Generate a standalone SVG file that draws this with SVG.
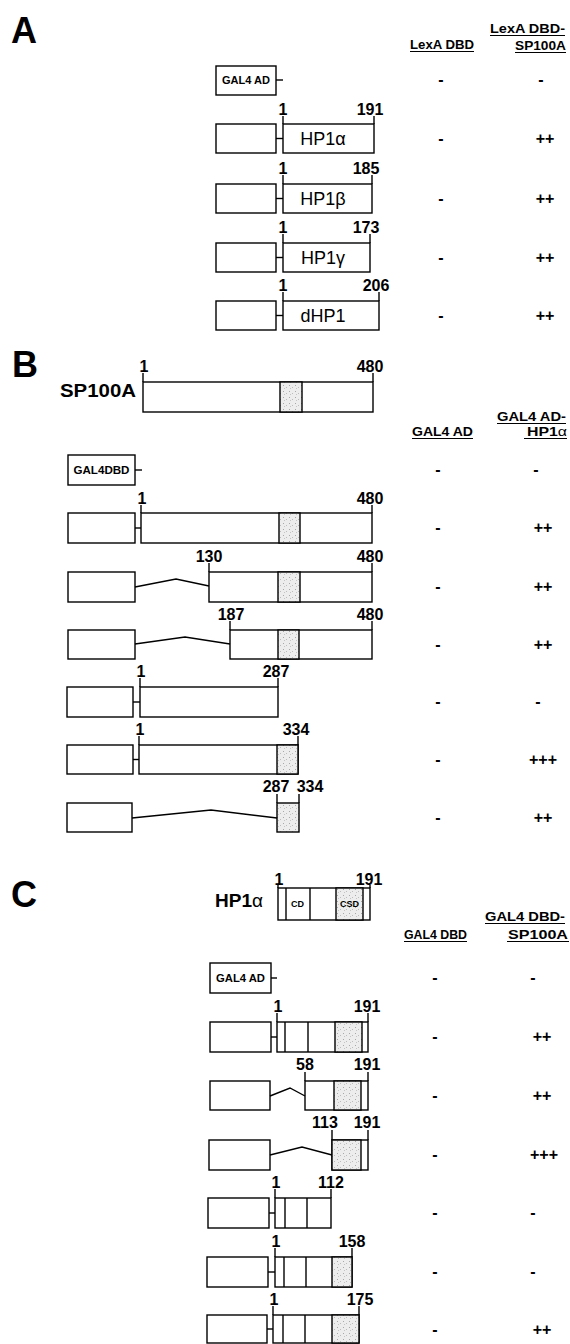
<svg xmlns="http://www.w3.org/2000/svg" width="570" height="1344" viewBox="0 0 570 1344">
<style>
.bx{fill:#fff;stroke:#000;stroke-width:1.4}
.sh{fill:url(#stip);stroke:#000;stroke-width:1.4}
.ln{fill:none;stroke:#000;stroke-width:1.4}
.ul{stroke:#000;stroke-width:1.1}
text{font-family:"Liberation Sans",Arial,sans-serif;fill:#000}
.pl{font-size:36px;font-weight:bold}
.num{font-size:16px;font-weight:bold;text-anchor:middle}
.sig{font-size:16px;font-weight:bold;text-anchor:middle}
.hdr{font-size:13.5px;font-weight:bold}
.in{font-size:10.5px;font-weight:bold;text-anchor:middle}
.nm{font-size:18px;text-anchor:middle}
.tiny{font-size:9px;font-weight:bold;text-anchor:middle}
</style>
<defs>
<pattern id="stip" width="6" height="6" patternUnits="userSpaceOnUse">
<rect width="6" height="6" fill="#ededed"/>
<rect x="1" y="1" width="1" height="1" fill="#a8a8a8"/>
<rect x="4" y="3" width="1" height="1" fill="#bcbcbc"/>
<rect x="2" y="4" width="1" height="1" fill="#c4c4c4"/>
</pattern>
</defs>

<!-- ================= PANEL A ================= -->
<g id="panelA-label"><text class="pl" x="11" y="43">A</text></g>
<g id="headerA">
<text class="hdr" x="410" y="49" textLength="64" lengthAdjust="spacingAndGlyphs">LexA DBD</text>
<line class="ul" x1="410" y1="51.5" x2="474" y2="51.5"/>
<text class="hdr" x="490" y="33" textLength="75" lengthAdjust="spacingAndGlyphs">LexA DBD-</text>
<line class="ul" x1="490" y1="35.5" x2="565" y2="35.5"/>
<text class="hdr" x="515" y="50" textLength="51" lengthAdjust="spacingAndGlyphs">SP100A</text>
<line class="ul" x1="515" y1="52.5" x2="566" y2="52.5"/>
</g>

<g id="A0-gal4ad">
<rect class="bx" x="216" y="66" width="60" height="29"/>
<text class="in" x="246" y="84" textLength="48" lengthAdjust="spacingAndGlyphs">GAL4 AD</text>
<text class="sig" x="441" y="85">-</text><text class="sig" x="541" y="85">-</text>
</g>

<g id="A1-hp1a">
<rect class="bx" x="216" y="124" width="60" height="29"/>
<rect class="bx" x="283" y="124" width="91" height="29"/>
<line class="ln" x1="283" y1="116" x2="283" y2="124"/><line class="ln" x1="374" y1="116" x2="374" y2="124"/>
<text class="num" x="283" y="115">1</text><text class="num" x="370" y="115">191</text>
<text class="nm" x="323" y="145">HP1α</text>
<text class="sig" x="441" y="144">-</text><text class="sig" x="545" y="144">++</text>
</g>

<g id="A2-hp1b">
<rect class="bx" x="216" y="184" width="60" height="29"/>
<rect class="bx" x="283" y="184" width="89" height="29"/>
<line class="ln" x1="283" y1="175" x2="283" y2="184"/><line class="ln" x1="372" y1="175" x2="372" y2="184"/>
<text class="num" x="283" y="174">1</text><text class="num" x="366" y="174">185</text>
<text class="nm" x="323" y="205">HP1β</text>
<text class="sig" x="441" y="204">-</text><text class="sig" x="545" y="204">++</text>
</g>

<g id="A3-hp1g">
<rect class="bx" x="216" y="243" width="60" height="29"/>
<rect class="bx" x="283" y="243" width="87" height="29"/>
<line class="ln" x1="283" y1="234" x2="283" y2="243"/><line class="ln" x1="370" y1="234" x2="370" y2="243"/>
<text class="num" x="283" y="233">1</text><text class="num" x="366" y="233">173</text>
<text class="nm" x="323" y="264">HP1γ</text>
<text class="sig" x="441" y="263">-</text><text class="sig" x="545" y="263">++</text>
</g>

<g id="A4-dhp1">
<rect class="bx" x="216" y="301" width="60" height="29"/>
<rect class="bx" x="283" y="301" width="96" height="29"/>
<line class="ln" x1="283" y1="292" x2="283" y2="301"/><line class="ln" x1="379" y1="292" x2="379" y2="301"/>
<text class="num" x="283" y="291">1</text><text class="num" x="376" y="291">206</text>
<text class="nm" x="323" y="322">dHP1</text>
<text class="sig" x="441" y="321">-</text><text class="sig" x="545" y="321">++</text>
</g>

<!-- ================= PANEL B ================= -->
<g id="panelB-label"><text class="pl" x="12" y="377">B</text></g>

<g id="B-sp100a">
<text x="60" y="397" font-size="18" font-weight="bold" textLength="76" lengthAdjust="spacingAndGlyphs">SP100A</text>
<rect class="bx" x="143" y="382" width="230" height="30"/>
<rect class="sh" x="280" y="382" width="22" height="30"/>
<line class="ln" x1="143" y1="373" x2="143" y2="382"/><line class="ln" x1="373" y1="373" x2="373" y2="382"/>
<text class="num" x="144" y="372">1</text><text class="num" x="370" y="372">480</text>
</g>

<g id="headerB">
<text class="hdr" x="412" y="436" textLength="61" lengthAdjust="spacingAndGlyphs">GAL4 AD</text>
<line class="ul" x1="412" y1="438.5" x2="473" y2="438.5"/>
<text class="hdr" x="497" y="421" textLength="69" lengthAdjust="spacingAndGlyphs">GAL4 AD-</text>
<line class="ul" x1="497" y1="423.5" x2="566" y2="423.5"/>
<text class="hdr" x="527" y="436" textLength="40" lengthAdjust="spacingAndGlyphs">HP1<tspan font-weight="normal">α</tspan></text>
<line class="ul" x1="524" y1="438.5" x2="567" y2="438.5"/>
</g>

<g id="B0-gal4dbd">
<rect class="bx" x="68" y="455" width="67" height="30"/>
<text class="in" x="101.5" y="474" textLength="56" lengthAdjust="spacingAndGlyphs">GAL4DBD</text>
<text class="sig" x="438" y="475">-</text><text class="sig" x="536" y="475">-</text>
</g>

<g id="B1-1-480">
<rect class="bx" x="68" y="513" width="67" height="30"/>
<rect class="bx" x="141" y="513" width="231" height="30"/>
<rect class="sh" x="279" y="513" width="21" height="30"/>
<line class="ln" x1="141" y1="505" x2="141" y2="513"/><line class="ln" x1="372" y1="505" x2="372" y2="513"/>
<text class="num" x="142" y="504">1</text><text class="num" x="370" y="504">480</text>
<text class="sig" x="438" y="533">-</text><text class="sig" x="543" y="533">++</text>
</g>

<g id="B2-130-480">
<rect class="bx" x="68" y="572" width="67" height="30"/>
<rect class="bx" x="209" y="572" width="163" height="30"/>
<rect class="sh" x="278" y="572" width="22" height="30"/>
<line class="ln" x1="209" y1="563" x2="209" y2="572"/><line class="ln" x1="372" y1="563" x2="372" y2="572"/>
<text class="num" x="209" y="562">130</text><text class="num" x="370" y="562">480</text>
<text class="sig" x="438" y="592">-</text><text class="sig" x="543" y="592">++</text>
</g>

<g id="B3-187-480">
<rect class="bx" x="68" y="630" width="67" height="29"/>
<rect class="bx" x="230" y="630" width="142" height="29"/>
<rect class="sh" x="278" y="630" width="21" height="29"/>
<line class="ln" x1="230" y1="621" x2="230" y2="630"/><line class="ln" x1="372" y1="621" x2="372" y2="630"/>
<text class="num" x="231" y="620">187</text><text class="num" x="370" y="620">480</text>
<text class="sig" x="438" y="650">-</text><text class="sig" x="543" y="650">++</text>
</g>

<g id="B4-1-287">
<rect class="bx" x="67" y="687" width="66" height="30"/>
<rect class="bx" x="140" y="687" width="138" height="30"/>
<line class="ln" x1="140" y1="678" x2="140" y2="687"/><line class="ln" x1="278" y1="678" x2="278" y2="687"/>
<text class="num" x="141" y="677">1</text><text class="num" x="276" y="677">287</text>
<text class="sig" x="438" y="707">-</text><text class="sig" x="538" y="707">-</text>
</g>

<g id="B5-1-334">
<rect class="bx" x="67" y="745" width="66" height="29"/>
<rect class="bx" x="139" y="745" width="159" height="29"/>
<rect class="sh" x="277" y="745" width="21" height="29"/>
<line class="ln" x1="139" y1="736" x2="139" y2="745"/><line class="ln" x1="298" y1="736" x2="298" y2="745"/>
<text class="num" x="140" y="735">1</text><text class="num" x="296" y="735">334</text>
<text class="sig" x="438" y="765">-</text><text class="sig" x="543" y="765">+++</text>
</g>

<g id="B6-287-334">
<rect class="bx" x="67" y="803" width="65" height="29"/>
<rect class="sh" x="277" y="803" width="22" height="29"/>
<line class="ln" x1="277" y1="794" x2="277" y2="803"/><line class="ln" x1="299" y1="794" x2="299" y2="803"/>
<text class="num" x="276" y="792">287</text><text class="num" x="310" y="792">334</text>
<text class="sig" x="438" y="823">-</text><text class="sig" x="543" y="823">++</text>
</g>

<!-- ================= PANEL C ================= -->
<g id="panelC-label"><text class="pl" x="11" y="907">C</text></g>

<g id="C-hp1a">
<text x="215" y="907" font-size="19" font-weight="bold">HP1<tspan font-weight="normal">α</tspan></text>
<rect class="bx" x="278" y="888" width="92" height="32"/>
<rect class="sh" x="336" y="888" width="27" height="32"/>
<line class="ln" x1="286" y1="888" x2="286" y2="920"/><line class="ln" x1="310" y1="888" x2="310" y2="920"/>
<line class="ln" x1="278" y1="885" x2="278" y2="888"/><line class="ln" x1="370" y1="885" x2="370" y2="888"/>
<text class="tiny" x="297.5" y="907">CD</text><text class="tiny" x="349.5" y="907">CSD</text>
<text class="num" x="279" y="885">1</text><text class="num" x="369" y="885">191</text>
</g>

<g id="headerC">
<text class="hdr" x="404" y="939" textLength="63" lengthAdjust="spacingAndGlyphs">GAL4 DBD</text>
<line class="ul" x1="404" y1="941.5" x2="467" y2="941.5"/>
<text class="hdr" x="485" y="921" textLength="80" lengthAdjust="spacingAndGlyphs">GAL4 DBD-</text>
<line class="ul" x1="485" y1="923.5" x2="565" y2="923.5"/>
<text class="hdr" x="508" y="939" textLength="60" lengthAdjust="spacingAndGlyphs">SP100A</text>
<line class="ul" x1="507" y1="941.5" x2="569" y2="941.5"/>
</g>

<g id="C0-gal4ad">
<rect class="bx" x="210" y="963" width="61" height="30"/>
<text class="in" x="240.5" y="982" textLength="49" lengthAdjust="spacingAndGlyphs">GAL4 AD</text>
<text class="sig" x="435" y="983">-</text><text class="sig" x="533" y="983">-</text>
</g>

<g id="C1-1-191">
<rect class="bx" x="210" y="1022" width="61" height="30"/>
<rect class="bx" x="277" y="1022" width="91" height="30"/>
<rect class="sh" x="335" y="1022" width="27" height="30"/>
<line class="ln" x1="285" y1="1022" x2="285" y2="1052"/><line class="ln" x1="308" y1="1022" x2="308" y2="1052"/>
<line class="ln" x1="277" y1="1013" x2="277" y2="1022"/><line class="ln" x1="368" y1="1013" x2="368" y2="1022"/>
<text class="num" x="278" y="1012">1</text><text class="num" x="367" y="1012">191</text>
<text class="sig" x="435" y="1042">-</text><text class="sig" x="542" y="1042">++</text>
</g>

<g id="C2-58-191">
<rect class="bx" x="210" y="1081" width="60" height="29"/>
<rect class="bx" x="305" y="1081" width="63" height="29"/>
<rect class="sh" x="334" y="1081" width="27" height="29"/>
<line class="ln" x1="305" y1="1072" x2="305" y2="1081"/><line class="ln" x1="368" y1="1072" x2="368" y2="1081"/>
<text class="num" x="305" y="1070">58</text><text class="num" x="367" y="1070">191</text>
<text class="sig" x="435" y="1101">-</text><text class="sig" x="542" y="1101">++</text>
</g>

<g id="C3-113-191">
<rect class="bx" x="209" y="1140" width="61" height="30"/>
<rect class="bx" x="332" y="1140" width="36" height="30"/>
<rect class="sh" x="332" y="1140" width="29" height="30"/>
<line class="ln" x1="332" y1="1130" x2="332" y2="1140"/><line class="ln" x1="368" y1="1130" x2="368" y2="1140"/>
<text class="num" x="325" y="1128">113</text><text class="num" x="367" y="1128">191</text>
<text class="sig" x="435" y="1160">-</text><text class="sig" x="544" y="1160">+++</text>
</g>

<g id="C4-1-112">
<rect class="bx" x="208" y="1198" width="61" height="30"/>
<rect class="bx" x="275" y="1198" width="56" height="30"/>
<line class="ln" x1="285" y1="1198" x2="285" y2="1228"/><line class="ln" x1="307" y1="1198" x2="307" y2="1228"/>
<line class="ln" x1="275" y1="1189" x2="275" y2="1198"/><line class="ln" x1="331" y1="1189" x2="331" y2="1198"/>
<text class="num" x="276" y="1188">1</text><text class="num" x="331" y="1188">112</text>
<text class="sig" x="435" y="1218">-</text><text class="sig" x="533" y="1218">-</text>
</g>

<g id="C5-1-158">
<rect class="bx" x="207" y="1257" width="61" height="30"/>
<rect class="bx" x="275" y="1257" width="77" height="30"/>
<rect class="sh" x="332" y="1257" width="20" height="30"/>
<line class="ln" x1="284" y1="1257" x2="284" y2="1287"/><line class="ln" x1="306" y1="1257" x2="306" y2="1287"/>
<line class="ln" x1="275" y1="1248" x2="275" y2="1257"/><line class="ln" x1="352" y1="1248" x2="352" y2="1257"/>
<text class="num" x="276" y="1247">1</text><text class="num" x="352" y="1247">158</text>
<text class="sig" x="435" y="1277">-</text><text class="sig" x="533" y="1277">-</text>
</g>

<g id="C6-1-175">
<rect class="bx" x="207" y="1315" width="60" height="28"/>
<rect class="bx" x="273" y="1315" width="86" height="28"/>
<rect class="sh" x="332" y="1315" width="27" height="28"/>
<line class="ln" x1="283" y1="1315" x2="283" y2="1343"/><line class="ln" x1="305" y1="1315" x2="305" y2="1343"/>
<line class="ln" x1="273" y1="1306" x2="273" y2="1315"/><line class="ln" x1="359" y1="1306" x2="359" y2="1315"/>
<text class="num" x="274" y="1305">1</text><text class="num" x="360" y="1305">175</text>
<text class="sig" x="435" y="1335">-</text><text class="sig" x="542" y="1335">++</text>
</g>

<!-- ================= CONNECTORS ================= -->
<g id="connectors" class="ln">
<line x1="276" y1="80" x2="283" y2="80"/>
<line x1="276" y1="138.5" x2="283" y2="138.5"/>
<line x1="276" y1="198.5" x2="283" y2="198.5"/>
<line x1="276" y1="257.5" x2="283" y2="257.5"/>
<line x1="276" y1="315.5" x2="283" y2="315.5"/>
<line x1="135" y1="470" x2="142" y2="470"/>
<line x1="135" y1="528" x2="141" y2="528"/>
<polyline points="135,587 176,579 209,586"/>
<polyline points="135,644 185,637 230,644"/>
<line x1="133" y1="702" x2="140" y2="702"/>
<line x1="133" y1="759.5" x2="139" y2="759.5"/>
<polyline points="132,818 211,810 277,818"/>
<line x1="271" y1="978" x2="277" y2="978"/>
<line x1="271" y1="1037" x2="277" y2="1037"/>
<polyline points="270,1096 290,1088 305,1096"/>
<polyline points="270,1155 302,1147 332,1155"/>
<line x1="269" y1="1213" x2="275" y2="1213"/>
<line x1="268" y1="1272" x2="275" y2="1272"/>
<line x1="267" y1="1329" x2="273" y2="1329"/>
</g>
</svg>
